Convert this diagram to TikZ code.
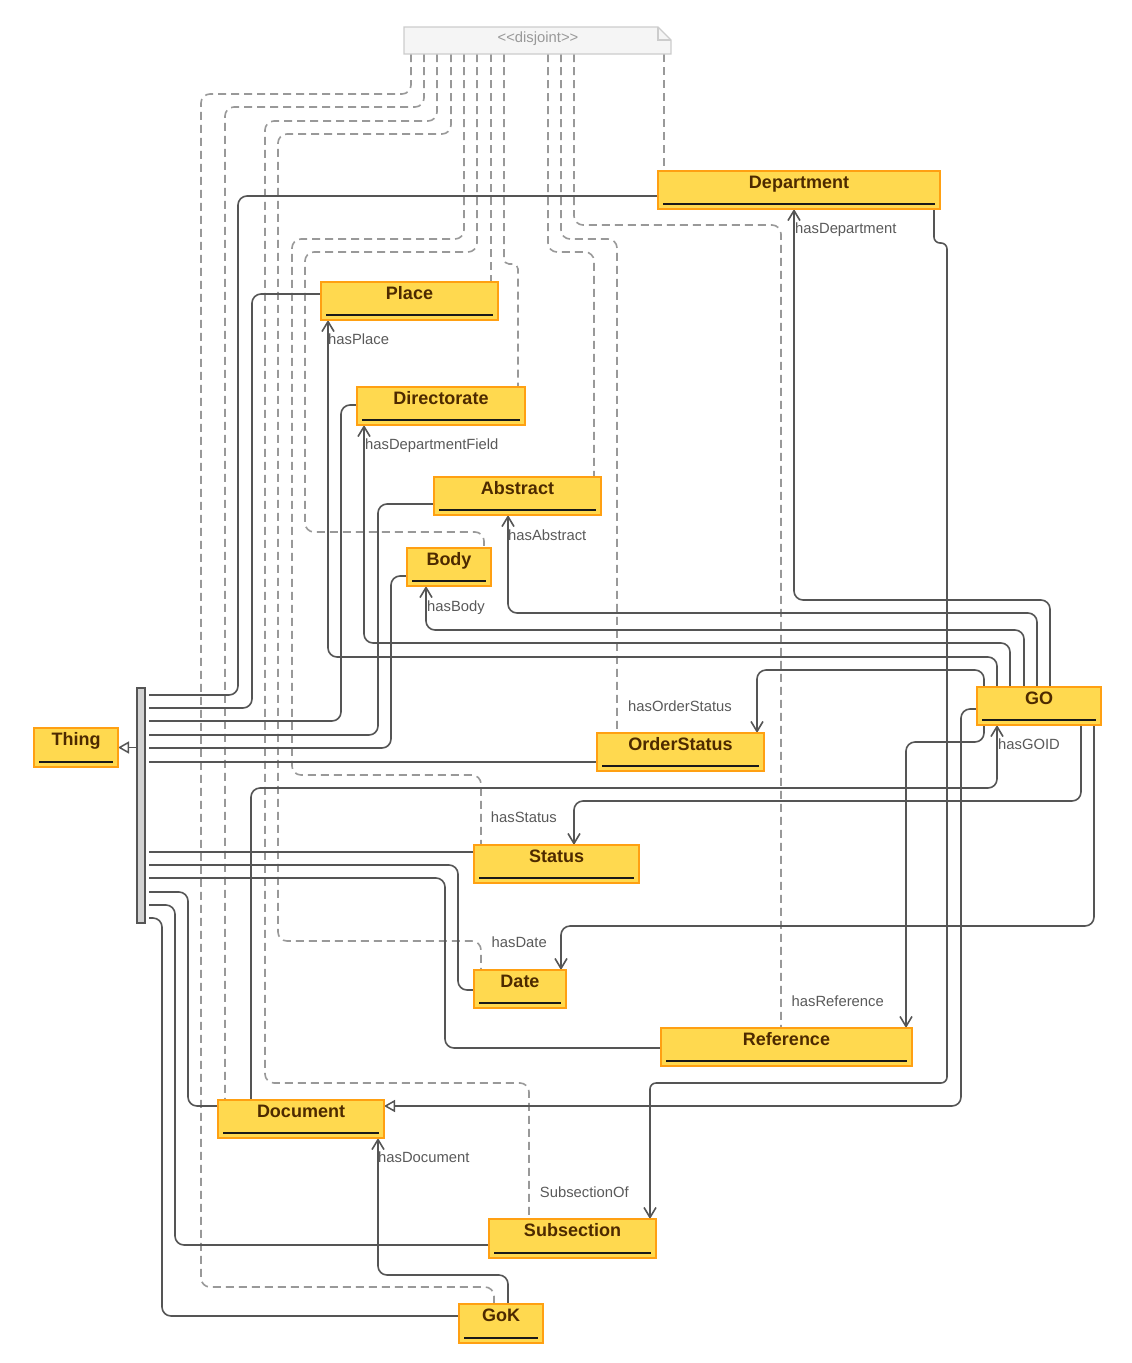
\documentclass[tikz,border=0pt]{standalone}
\usepackage{fontspec}
\setmainfont{Liberation Sans}
\usetikzlibrary{arrows.meta}

\definecolor{clsfill}{HTML}{FFD94F}
\definecolor{clsdraw}{HTML}{FFA012}
\definecolor{clstext}{HTML}{4D2A00}
\definecolor{edgecol}{HTML}{555555}
\definecolor{dashcol}{HTML}{999999}
\definecolor{lblcol}{HTML}{595959}
\definecolor{notefill}{HTML}{F5F5F5}
\definecolor{notedraw}{HTML}{CCCCCC}
\definecolor{notetext}{HTML}{999999}

\tikzset{
  clsbox/.style={draw=clsdraw, fill=clsfill, line width=2pt, inner sep=0pt, outer sep=0pt,
    rectangle, anchor=north west},
  clsname/.style={font=\fontsize{18}{20}\selectfont\bfseries, text=clstext, inner sep=0pt, anchor=base},
  uline/.style={line width=2pt, draw=black!90},
  conn/.style={draw=edgecol, line width=1.6pt, rounded corners=9pt},
  prop/.style={conn, -{Straight Barb[length=10pt,width=12pt,line width=1.6pt]}},
  isa/.style={conn, -{Triangle[length=11pt,width=12pt,fill=white,line width=1.5pt]}},
  disj/.style={draw=dashcol, line width=1.6pt, dash pattern=on 8pt off 5pt, rounded corners=9pt},
  lbl/.style={font=\fontsize{14.8}{17}\selectfont, text=lblcol, inner sep=0pt},
}

% name, left, top, width, height, text
\newcommand\classbox[6]{%
  \node[clsbox, minimum width=#4pt, minimum height=#5pt] (#1) at (#2,#3) {};
  \node[clsname] (#1-t) at ([yshift=-17.5pt]#1.north) {#6};
  \draw[uline] ([xshift=5pt,yshift=5pt]#1.south west) -- ([xshift=-5pt,yshift=5pt]#1.south east);
}

\begin{document}
\begin{tikzpicture}[x=1pt, y=-1pt]
\useasboundingbox (0,0) rectangle (1132,1363);

% ---- node frames (placed first so connectors can refer to them) ----
\node[inner sep=0pt, outer sep=0pt, minimum width=267pt, minimum height=27pt, anchor=north west] (note) at (404,27) {};
\node[inner sep=0pt, outer sep=0pt, minimum width=8pt, minimum height=235pt, anchor=north west] (bar) at (137,688) {};
\foreach \n/\x/\y/\w/\h in {dep/658/171/282/38, place/321/282/177/38, dir/357/387/168/38,
    abs/434/477/167/38, body/407/548/84/38, go/977/687/124/38, ost/597/733/167/38,
    thing/34/728/84/39, status/474/845/165/38, date/474/970/92/38, ref/661/1028/251/38,
    doc/218/1100/166/38, subs/489/1219/167/39, gok/459/1304/84/39}
  \node[inner sep=0pt, outer sep=0pt, minimum width=\w pt, minimum height=\h pt, anchor=north west] (\n) at (\x,\y) {};
\coordinate (bx) at ([xshift=4pt]bar.east);

% ---- disjointness links ----
\draw[disj] (note.south -| 411,0) -- (411,94) -- (201,94) -- (201,1287) -- (494,1287) -- (gok.north -| 494,0);
\draw[disj] (note.south -| 424,0) -- (424,107) -- (225,107) -- (doc.north -| 225,0);
\draw[disj] (note.south -| 437,0) -- (437,121) -- (265,121) -- (265,1083) -- (529,1083) -- (subs.north -| 529,0);
\draw[disj] (note.south -| 451,0) -- (451,134) -- (278,134) -- (278,941) -- (481,941) -- (date.north -| 481,0);
\draw[disj] (note.south -| 464,0) -- (464,239) -- (292,239) -- (292,775) -- (481,775) -- (status.north -| 481,0);
\draw[disj] (note.south -| 477,0) -- (477,252) -- (305,252) -- (305,532) -- (484,532) -- (body.north -| 484,0);
\draw[disj] (note.south -| 491,0) -- (place.north -| 491,0);
\draw[disj, rounded corners=5pt] (note.south -| 504,0) -- (504,264) -- (518,264) -- (dir.north -| 518,0);
\draw[disj] (note.south -| 548,0) -- (548,252) -- (594,252) -- (abs.north -| 594,0);
\draw[disj] (note.south -| 561,0) -- (561,239) -- (617,239) -- (ost.north -| 617,0);
\draw[disj] (note.south -| 574,0) -- (574,225) -- (781,225) -- (ref.north -| 781,0);
\draw[disj] (note.south -| 664,0) -- (dep.north -| 664,0);

% ---- subclass bus to Thing ----
\draw[conn] (bx |- 0,695) -- (238,695) -- (238,196) -- (dep.west |- 0,196);
\draw[conn] (bx |- 0,708) -- (252,708) -- (252,294) -- (place.west |- 0,294);
\draw[conn] (bx |- 0,721) -- (341,721) -- (341,405) -- (dir.west |- 0,405);
\draw[conn] (bx |- 0,735) -- (378,735) -- (378,504) -- (abs.west |- 0,504);
\draw[conn] (bx |- 0,748) -- (391,748) -- (391,576) -- (body.west |- 0,576);
\draw[conn] (bx |- 0,762) -- (ost.west |- 0,762);
\draw[conn] (bx |- 0,852) -- (status.west |- 0,852);
\draw[conn] (bx |- 0,865) -- (458,865) -- (458,990) -- (date.west |- 0,990);
\draw[conn] (bx |- 0,878) -- (445,878) -- (445,1048) -- (ref.west |- 0,1048);
\draw[conn] (bx |- 0,892) -- (188,892) -- (188,1106) -- (doc.west |- 0,1106);
\draw[conn] (bx |- 0,905) -- (175,905) -- (175,1245) -- (subs.west |- 0,1245);
\draw[conn] (bx |- 0,918) -- (162,918) -- (162,1316) -- (gok.west |- 0,1316);
\draw[isa] (bar.west |- thing.east) -- (thing.east);

% ---- GO is a Document ----
\draw[isa] (go.west |- 0,709) -- (961,709) -- (961,1106) -- (doc.east |- 0,1106);

% ---- object properties ----
\draw[prop] (go.north -| 1050,0) -- (1050,600) -- (794,600) -- (dep.south -| 794,0);
\draw[prop] (go.north -| 1037,0) -- (1037,613) -- (508,613) -- (abs.south -| 508,0);
\draw[prop] (go.north -| 1024,0) -- (1024,630) -- (426,630) -- (body.south -| 426,0);
\draw[prop] (go.north -| 1010,0) -- (1010,643) -- (364,643) -- (dir.south -| 364,0);
\draw[prop] (go.north -| 997,0) -- (997,657) -- (328,657) -- (place.south -| 328,0);
\draw[prop] (go.north -| 984,0) -- (984,670) -- (757,670) -- (ost.north -| 757,0);
\draw[prop] (doc.north -| 251,0) -- (251,788) -- (997,788) -- (go.south -| 997,0);
\draw[prop] (go.south -| 1081,0) -- (1081,801) -- (574,801) -- (status.north -| 574,0);
\draw[prop] (go.south -| 1094,0) -- (1094,926) -- (561,926) -- (date.north -| 561,0);
\draw[prop] (go.south -| 984,0) -- (984,742) -- (906,742) -- (ref.north -| 906,0);
\draw[prop, rounded corners=6pt] (dep.south -| 934,0) -- (934,243) -- (947,243) -- (947,1083) -- (650,1083) -- (subs.north -| 650,0);
\draw[prop] (gok.north -| 508,0) -- (508,1275) -- (378,1275) -- (doc.south -| 378,0);

% ---- property labels ----
\node[lbl, anchor=base west] (l-dep) at (795,233) {hasDepartment};
\node[lbl, anchor=base west] (l-place) at (328,344) {hasPlace};
\node[lbl, anchor=base west] (l-dir) at (365,449) {hasDepartmentField};
\node[lbl, anchor=base west] (l-abs) at (508,540) {hasAbstract};
\node[lbl, anchor=base west] (l-body) at (427,611) {hasBody};
\node[lbl, anchor=base east] (l-ost) at (732,711) {hasOrderStatus};
\node[lbl, anchor=base west] (l-goid) at (998,749) {hasGOID};
\node[lbl, anchor=base east] (l-status) at (557,822) {hasStatus};
\node[lbl, anchor=base east] (l-date) at (547,947) {hasDate};
\node[lbl, anchor=base east] (l-ref) at (884,1006) {hasReference};
\node[lbl, anchor=base west] (l-doc) at (378,1162) {hasDocument};
\node[lbl, anchor=base east] (l-subs) at (629,1197) {SubsectionOf};

% ---- disjointness note ----
\draw[fill=notefill, draw=notedraw, line width=1.3pt] (note.north west) -- ([xshift=-13pt]note.north east)
  -- ([yshift=-13pt]note.north east) -- (note.south east) -- (note.south west) -- cycle;
\draw[draw=notedraw, line width=1.3pt] ([xshift=-13pt]note.north east) -- ([xshift=-13pt,yshift=-13pt]note.north east)
  -- ([yshift=-13pt]note.north east);
\node[lbl, text=notetext, anchor=base] (note-t) at (538,42) {<\kern0pt<disjoint>\kern0pt>};

% ---- generalisation bar ----
\draw[draw=edgecol, fill=gray!35, line width=1.3pt] (bar.north west) rectangle (bar.south east);

% ---- classes ----
\classbox{dep}{658}{171}{282}{38}{Department}
\classbox{place}{321}{282}{177}{38}{Place}
\classbox{dir}{357}{387}{168}{38}{Directorate}
\classbox{abs}{434}{477}{167}{38}{Abstract}
\classbox{body}{407}{548}{84}{38}{Body}
\classbox{go}{977}{687}{124}{38}{GO}
\classbox{ost}{597}{733}{167}{38}{OrderStatus}
\classbox{thing}{34}{728}{84}{39}{Thing}
\classbox{status}{474}{845}{165}{38}{Status}
\classbox{date}{474}{970}{92}{38}{Date}
\classbox{ref}{661}{1028}{251}{38}{Reference}
\classbox{doc}{218}{1100}{166}{38}{Document}
\classbox{subs}{489}{1219}{167}{39}{Subsection}
\classbox{gok}{459}{1304}{84}{39}{GoK}
\end{tikzpicture}
\end{document}
